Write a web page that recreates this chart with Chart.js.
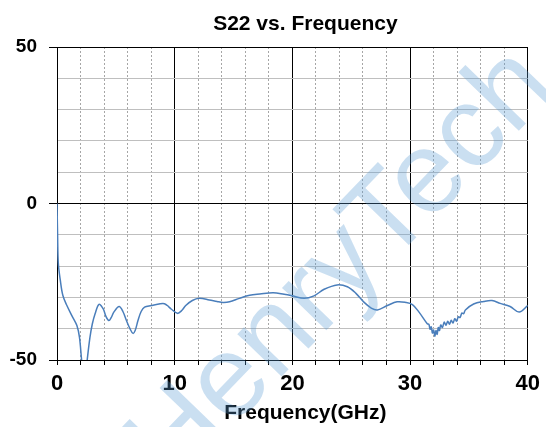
<!DOCTYPE html>
<html>
<head>
<meta charset="utf-8">
<title>S22 vs. Frequency</title>
<script src="https://cdn.jsdelivr.net/npm/chart.js@4.4.1/dist/chart.umd.min.js"></script>
<style>
  html, body { margin: 0; padding: 0; background: #fff; }
  #wrap { position: relative; width: 546px; height: 427px; }
</style>
</head>
<body>
<div id="wrap"><canvas id="s22Chart" width="546" height="427"></canvas></div>
<script>
// ==================== DATA ====================
const chartTitle = 'S22 vs. Frequency';
const xAxisTitle = 'Frequency(GHz)';
const watermarkText = 'HenryTech';

const xTickLabels = [0, 10, 20, 30, 40];
const yTickLabels = [-50, 0, 50];

const freqGHz = [
    0, 0.05, 0.11, 0.28, 0.5, 0.84, 1.26, 1.69, 1.91, 2.1,
    2.3, 2.45, 2.55, 2.8, 3.0, 3.23, 3.57, 3.93, 4.15, 4.41,
    4.6, 4.83, 5.28, 5.6, 5.9, 6.2, 6.46, 6.65, 6.88, 7.15,
    7.44, 8.0, 8.66, 9.13, 9.5, 9.7, 10.23, 10.6, 10.94, 11.5,
    12.09, 12.94, 13.6, 14.1, 14.66, 15.5, 16.37, 17.23, 18.37, 19.3,
    20.0, 21.0, 21.84, 22.7, 23.8, 24.67, 25.4, 26.1, 26.7, 27.22,
    28.07, 28.9, 29.63, 30.2, 30.76, 31.46, 31.6, 31.7, 31.8, 31.9,
    32.0, 32.1, 32.2, 32.3, 32.4, 32.5, 32.6, 32.75, 32.9, 33.05,
    33.2, 33.35, 33.5, 33.65, 33.8, 33.95, 34.1, 34.25, 34.4, 34.55,
    34.7, 35.4, 36.25, 36.96, 37.66, 38.5, 39.27, 40
];
const s22dB = [
    0, -10, -19, -24.5, -29.4, -32.6, -35.8, -39, -42.8, -50.3,
    -56, -54, -50.5, -42.8, -38.5, -35.3, -32.2, -33.7, -36, -37.4,
    -36.5, -34.7, -32.9, -34.5, -37.4, -40, -41.5, -40.5, -37.4, -34.5,
    -33.1, -32.6, -32.1, -32, -33, -33.7, -35.1, -34.2, -32.6, -31,
    -30.3, -30.8, -31.3, -31.6, -31.4, -30.3, -29.3, -28.9, -28.5, -29,
    -29.5, -30.3, -29.5, -27.4, -26, -26.6, -28.7, -31.6, -33.4, -34,
    -32.6, -31.4, -31.6, -32.3, -34.7, -38.4, -38.6, -40.2, -39.4, -41.4,
    -40.4, -42.4, -40.6, -41.8, -39.6, -40.6, -38.8, -39.6, -37.9, -38.9,
    -37.6, -38.6, -37.3, -38.2, -36.8, -37.6, -36.2, -36.4, -35.0, -35.2,
    -34, -32.1, -31.3, -31, -31.9, -32.9, -34.7, -32.6
];

// ==================== TEXT + WATERMARK ====================
const textPlugin = {
    id: 'textPlugin',
    afterDraw(chart) {
        const ctx = chart.ctx;
        const area = chart.chartArea;
        const midX = (area.left + area.right) / 2 + 13;

        ctx.save();
        ctx.fillStyle = '#000';
        ctx.textAlign = 'center';
        ctx.textBaseline = 'middle';
        ctx.font = 'bold 21px "Liberation Sans", Arial, sans-serif';
        ctx.fillText(chartTitle, midX, 24);
        ctx.fillText(xAxisTitle, midX, 413);
        ctx.restore();

        // faint diagonal watermark
        ctx.save();
        ctx.translate(173, 489);
        ctx.rotate(-46 * Math.PI / 180);
        ctx.font = '116px "Liberation Sans", Arial, sans-serif';
        ctx.fillStyle = 'rgba(91, 155, 213, 0.32)';
        ctx.textAlign = 'left';
        ctx.textBaseline = 'alphabetic';
        ctx.fillText(watermarkText, 0, 0);
        ctx.restore();
    }
};

// ==================== S22 CHART ====================
const ctx = document.getElementById('s22Chart');
new Chart(ctx, {
    type: 'line',
    data: {
        datasets: [{
            label: 'S22',
            data: freqGHz.map((f, i) => ({ x: f, y: s22dB[i] })),
            borderColor: '#4a7ebb',
            borderWidth: 1.5,
            pointRadius: 0,
            tension: 0.35,
            fill: false
        }]
    },
    options: {
        responsive: false,
        animation: false,
        layout: {
            padding: { left: 0, right: 15, top: 47, bottom: 0 }
        },
        plugins: {
            legend: { display: false },
            title: { display: false },
            tooltip: { enabled: false }
        },
        scales: {
            x: {
                type: 'linear',
                min: 0,
                max: 40,
                afterFit: function (scale) { scale.height = 67; },
                ticks: {
                    stepSize: 2,
                    autoSkip: false,
                    maxRotation: 0,
                    padding: 6,
                    color: '#000',
                    font: { family: '"Liberation Sans", Arial, sans-serif', size: 22, weight: 'bold' },
                    callback: function (value) {
                        return xTickLabels.includes(value) ? value : '';
                    }
                },
                grid: {
                    color: function (c) {
                        return c.tick && c.tick.value % 10 === 0 ? '#000' : '#a6a6a6';
                    },
                    lineWidth: 1,
                    tickLength: 5,
                    tickColor: '#000'
                },
                border: {
                    display: true,
                    color: '#000',
                    width: 1,
                    dash: function (c) {
                        return c.tick && c.tick.value % 10 !== 0 ? [2, 2] : [];
                    }
                }
            },
            y: {
                min: -50,
                max: 50,
                afterFit: function (scale) { scale.width = 57; },
                ticks: {
                    stepSize: 10,
                    padding: 12,
                    color: '#000',
                    font: { family: '"Liberation Sans", Arial, sans-serif', size: 19, weight: 'bold' },
                    callback: function (value) {
                        return yTickLabels.includes(value) ? value : '';
                    }
                },
                grid: {
                    color: function (c) {
                        return c.tick && c.tick.value % 50 === 0 ? '#000' : '#bfbfbf';
                    },
                    lineWidth: 1,
                    tickLength: 8,
                    tickColor: function (c) {
                        return c.tick && c.tick.value % 50 === 0 ? '#000' : 'rgba(0,0,0,0)';
                    }
                },
                border: { display: true, color: '#000', width: 1 }
            }
        }
    },
    plugins: [textPlugin]
});
</script>
</body>
</html>
